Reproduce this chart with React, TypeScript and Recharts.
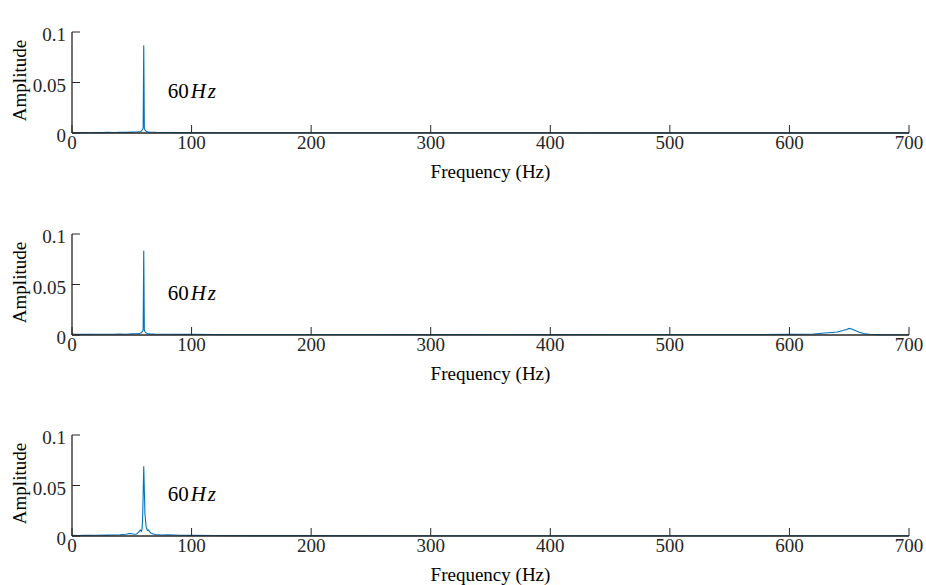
import React from 'react';
import { LineChart, Line, XAxis, YAxis, ReferenceDot, Label } from 'recharts';

const FONT = '"Liberation Serif", "Times New Roman", serif';
const AX = '#262626';
const BLUE = '#0072BD';

const xTicks = [0, 100, 200, 300, 400, 500, 600, 700];
const yTicks = [0, 0.05, 0.1];
const titles = [
  'Spectrum of target trajectory',
  'Spectrum of EMM output contaminated by noise',
  'Spectrum of EMM output controlled by MGESC scheme',
];
const xLabel = 'Frequency (Hz)';
const yLabel = 'Amplitude';
const annotFreq = 80;
const annotAmp = 0.0347;

// Panel 1: target trajectory
const freqTarget = [0, 2, 5, 10, 15, 20, 25, 30, 35, 40, 45, 50, 53, 55, 57, 58, 59, 59.5, 60, 60.5, 61, 62, 63, 65, 68, 70, 75, 80, 90, 100, 120, 150, 200, 250, 300, 350, 400, 450, 500, 550, 600, 650, 700];
const ampTarget = [0.0008, 0.0004, 0.0003, 0.0004, 0.0003, 0.0005, 0.0004, 0.0006, 0.0005, 0.0007, 0.0006, 0.0009, 0.001, 0.0012, 0.0015, 0.002, 0.0035, 0.0045, 0.087, 0.0045, 0.003, 0.0018, 0.0012, 0.0009, 0.0007, 0.0006, 0.0005, 0.0005, 0.0004, 0.0004, 0.0003, 0.0003, 0.0002, 0.0002, 0.0002, 0.0002, 0.0002, 0.0001, 0.0001, 0.0001, 0.0001, 0.0001, 0.0001];

// Panel 2: contaminated output
const freqNoisy = [0, 2, 5, 10, 15, 20, 25, 30, 35, 40, 45, 50, 53, 55, 57, 58, 59, 59.5, 60, 60.5, 61, 62, 63, 65, 68, 70, 75, 80, 90, 100, 120, 150, 200, 250, 300, 350, 400, 450, 500, 550, 600, 610, 620, 625, 630, 635, 640, 645, 648, 650, 652, 655, 658, 662, 667, 675, 690, 700];
const ampNoisy = [0.0012, 0.0007, 0.0006, 0.0007, 0.0006, 0.0008, 0.0007, 0.0008, 0.0007, 0.0009, 0.0008, 0.0011, 0.0012, 0.0014, 0.0017, 0.0022, 0.0038, 0.0048, 0.0835, 0.0048, 0.0032, 0.002, 0.0014, 0.0011, 0.0009, 0.0008, 0.0007, 0.0007, 0.0006, 0.0006, 0.0005, 0.0005, 0.0005, 0.0005, 0.0004, 0.0005, 0.0004, 0.0005, 0.0005, 0.0005, 0.0006, 0.0007, 0.001, 0.0015, 0.002, 0.0025, 0.003, 0.0045, 0.0055, 0.0065, 0.006, 0.0045, 0.003, 0.0015, 0.0008, 0.0004, 0.0003, 0.0003];

// Panel 3: controlled output
const freqCtrl = [0, 5, 10, 20, 30, 40, 45, 48, 50, 52, 54, 56, 57, 58, 58.5, 59, 59.5, 60, 60.5, 61, 62, 63, 64, 65, 66, 68, 70, 75, 80, 90, 100, 120, 150, 200, 300, 400, 500, 600, 700];
const ampCtrl = [0.0008, 0.0005, 0.0006, 0.0007, 0.0009, 0.0012, 0.0018, 0.0025, 0.0022, 0.0018, 0.002, 0.004, 0.006, 0.0045, 0.006, 0.015, 0.04, 0.069, 0.045, 0.022, 0.009, 0.0055, 0.006, 0.004, 0.003, 0.002, 0.0015, 0.001, 0.0012, 0.0008, 0.0006, 0.0005, 0.0004, 0.0004, 0.0003, 0.0003, 0.0003, 0.0003, 0.0003];

const build = (fs: number[], as: number[]) => fs.map((f, i) => ({ f, a: as[i] }));
const panels = [
  build(freqTarget, ampTarget),
  build(freqNoisy, ampNoisy),
  build(freqCtrl, ampCtrl),
];

const FS = 19;

const BottomTick = (props: any) => {
  const { x, y, payload } = props;
  return (
    <g>
      <line x1={x} x2={x} y1={y} y2={y - 8} stroke={AX} strokeWidth={1} />
      <text x={x} y={y + 16} textAnchor="middle" fill={AX} fontSize={FS} fontFamily={FONT}>
        {payload.value}
      </text>
    </g>
  );
};

const TopTick = (props: any) => {
  const { x, y } = props;
  return <line x1={x} x2={x} y1={y} y2={y + 8} stroke={AX} strokeWidth={1} />;
};

const LeftTick = (props: any) => {
  const { x, y, payload } = props;
  return (
    <g>
      <line x1={x} x2={x + 8} y1={y} y2={y} stroke={AX} strokeWidth={1} />
      <text x={x - 6} y={y + 9} textAnchor="end" fill={AX} fontSize={FS} fontFamily={FONT}>
        {String(payload.value)}
      </text>
    </g>
  );
};

const RightTick = (props: any) => {
  const { x, y } = props;
  return <line x1={x - 8} x2={x} y1={y} y2={y} stroke={AX} strokeWidth={1} />;
};

function Panel({ data, title, top }: { data: { f: number; a: number }[]; title: string; top: number }) {
  return (
    <div style={{ position: 'absolute', left: 0, top, width: 926, height: 201 }}>
      <LineChart width={926} height={201} data={data} margin={{ top: 32, right: 17, bottom: 0, left: 0 }}>
        <XAxis
          xAxisId="b"
          dataKey="f"
          type="number"
          domain={[0, 700]}
          ticks={xTicks}
          interval={0}
          tickLine={false}
          tickSize={0}
          tickMargin={0}
          tick={<BottomTick />}
          axisLine={{ stroke: AX, strokeWidth: 1.3 }}
          height={68}
        >
          <Label
            content={(p: any) => {
              const vb = p.viewBox;
              return (
                <text x={vb.x + vb.width / 2} y={vb.y + 45} textAnchor="middle" fill="#000" fontSize={FS} fontFamily={FONT}>
                  {xLabel}
                </text>
              );
            }}
          />
        </XAxis>
        <XAxis
          xAxisId="t"
          orientation="top"
          dataKey="f"
          type="number"
          domain={[0, 700]}
          ticks={xTicks}
          interval={0}
          tickLine={false}
          tickSize={0}
          tickMargin={0}
          tick={<TopTick />}
          axisLine={{ stroke: AX, strokeWidth: 1.3 }}
          height={0}
        >
          <Label
            content={(p: any) => {
              const vb = p.viewBox;
              return (
                <text x={vb.x + vb.width / 2} y={vb.y + vb.height - 8} textAnchor="middle" fill="#000" fontSize={FS} fontFamily={FONT}>
                  {title}
                </text>
              );
            }}
          />
        </XAxis>
        <YAxis
          yAxisId="l"
          type="number"
          domain={[0, 0.1]}
          ticks={yTicks}
          interval={0}
          tickLine={false}
          tickSize={0}
          tickMargin={0}
          tick={<LeftTick />}
          axisLine={{ stroke: AX, strokeWidth: 1.3 }}
          width={72}
        >
          <Label
            content={(p: any) => {
              const vb = p.viewBox;
              const cx = vb.x + 26;
              const cy = vb.y + vb.height / 2 - 2;
              return (
                <text x={cx} y={cy} transform={`rotate(-90, ${cx}, ${cy})`} textAnchor="middle" fill="#000" fontSize={FS} fontFamily={FONT}>
                  {yLabel}
                </text>
              );
            }}
          />
        </YAxis>
        <YAxis
          yAxisId="r"
          orientation="right"
          type="number"
          domain={[0, 0.1]}
          ticks={yTicks}
          interval={0}
          tickLine={false}
          tickSize={0}
          tickMargin={0}
          tick={<RightTick />}
          axisLine={{ stroke: AX, strokeWidth: 1.3 }}
          width={0}
        />
        <Line
          xAxisId="t"
          yAxisId="r"
          dataKey="a"
          stroke="none"
          dot={false}
          activeDot={false}
          isAnimationActive={false}
          legendType="none"
        />
        <Line
          xAxisId="b"
          yAxisId="l"
          type="linear"
          dataKey="a"
          stroke={BLUE}
          strokeWidth={1.1}
          dot={false}
          activeDot={false}
          isAnimationActive={false}
        />
        <ReferenceDot
          xAxisId="b"
          yAxisId="l"
          x={annotFreq}
          y={annotAmp}
          r={0}
          shape={(p: any) => (
            <text x={p.cx} y={p.cy} fill="#000" fontSize={21} fontFamily={FONT}>
              60<tspan fontStyle="italic" dx={2}>H</tspan>
              <tspan fontStyle="italic" dx={2}>z</tspan>
            </text>
          )}
        />
      </LineChart>
    </div>
  );
}

export default function App() {
  return (
    <div style={{ position: 'absolute', left: 0, top: 0, width: 926, height: 585, overflow: 'hidden', background: '#fff' }}>
      <Panel data={panels[0]} title={titles[0]} top={0} />
      <Panel data={panels[1]} title={titles[1]} top={202} />
      <Panel data={panels[2]} title={titles[2]} top={403} />
    </div>
  );
}
